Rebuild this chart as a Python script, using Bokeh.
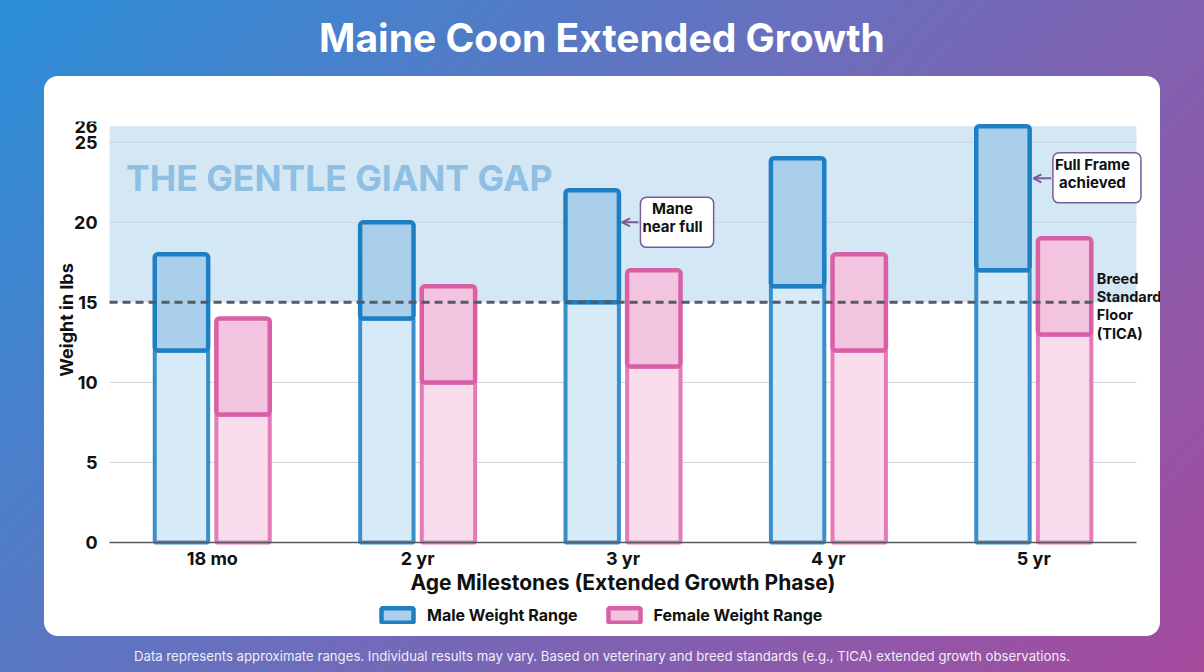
import math
from bokeh.plotting import figure
from bokeh.layouts import column
from bokeh.models import (BoxAnnotation, Label, Arrow, OpenHead, FixedTicker,
                          Legend, LegendItem, ColumnDataSource, Div)
from bokeh.embed import file_html
from bokeh.resources import INLINE

# ---------------- data ----------------
categories = ["18 mo", "2 yr", "3 yr", "4 yr", "5 yr"]
male_low = [12, 14, 15, 16, 17]
male_high = [18, 20, 22, 24, 26]
female_low = [8, 10, 11, 12, 13]
female_high = [14, 16, 17, 18, 19]
y_ticks = [0, 5, 10, 15, 20, 25, 26]
breed_floor = 15
gap_top = 26

FONT = "Inter"
BLUE = "#1f7fc3"
PINK = "#d95fa6"
PURPLE = "#7a5a9c"

idx = list(range(len(categories)))
male_x = [i - 0.15 for i in idx]
female_x = [i + 0.15 for i in idx]
zeros = [0] * len(categories)
x_lo, x_hi = -0.5, len(categories) - 0.5

# the frame spans the whole white card; axes sit at fixed locations inside it
p = figure(width=1116, height=560, output_backend="svg", toolbar_location=None,
           x_range=(x_lo - 0.3168, x_hi + 0.117), y_range=(-5.875, gap_top + 0.3),
           min_border_left=0, min_border_right=0, min_border_top=45,
           min_border_bottom=0, margin=(0, 44, 0, 44))
p.styles = {"background-color": "white", "border-radius": "14px"}
p.border_fill_alpha = 0
p.background_fill_alpha = 0
p.outline_line_color = None
p.xgrid.grid_line_color = None
p.ygrid.grid_line_color = None

# gentle giant band
band = BoxAnnotation(left=x_lo, right=x_hi, bottom=breed_floor, top=gap_top,
                     fill_color="#b9d9ef", fill_alpha=0.62, line_color=None,
                     level="underlay")
p.add_layout(band)

# grid lines
grid_y = [t for t in y_ticks if 0 < t < gap_top and t != breed_floor]
p.segment(x0=[x_lo] * len(grid_y), x1=[x_hi] * len(grid_y), y0=grid_y, y1=grid_y,
          line_color="#c9d5de", line_width=1)

# bars
src = ColumnDataSource(dict(mx=male_x, fx=female_x, z=zeros,
                            ml=male_low, mh=male_high, fl=female_low, fh=female_high))
w = 0.26
p.vbar(x="mx", width=w, bottom="z", top="ml", source=src, fill_color="#d6eaf7",
       line_color="#3a8fcb", line_width=4)
p.vbar(x="fx", width=w, bottom="z", top="fl", source=src, fill_color="#f9dded",
       line_color="#e27bb7", line_width=4)
male_r = p.vbar(x="mx", width=w, bottom="ml", top="mh", source=src, fill_color="#a9cfea",
                line_color=BLUE, line_width=4.5, border_radius=3)
female_r = p.vbar(x="fx", width=w, bottom="fl", top="fh", source=src, fill_color="#f2c4df",
                  line_color=PINK, line_width=4.5, border_radius=3)

# breed standard floor
p.segment(x0=[x_lo], x1=[4.29], y0=[breed_floor], y1=[breed_floor],
          line_color="#545b63", line_width=3, line_dash="8 5")
p.add_layout(Label(x=4.307, y=breed_floor - 0.2, text="Breed\nStandard\nFloor\n(TICA)",
                   text_font=FONT, text_font_style="bold", text_font_size="14.5px",
                   text_color="#111111", text_baseline="middle", text_align="left",
                   text_line_height=1.08))

# band label
p.add_layout(Label(x=-0.42, y=22.75, text="THE GENTLE GIANT GAP", text_font=FONT,
                   text_font_style="bold", text_font_size="35.5px", text_color="#8fbfe2",
                   text_baseline="middle", text_align="left"))

# callouts
def callout(tx, ty, text, ax0, ax1, ay):
    p.add_layout(Arrow(end=OpenHead(size=8, line_color=PURPLE, line_width=2),
                       x_start=ax0, y_start=ay, x_end=ax1, y_end=ay,
                       line_color=PURPLE, line_width=2))
    p.add_layout(Label(x=tx, y=ty, text=text, text_font=FONT, text_font_style="bold",
                       text_font_size="15px", text_color="#111111", text_align="center",
                       text_baseline="middle", text_line_height=0.95,
                       background_fill_color="white", border_line_color=PURPLE,
                       border_line_width=1.5, border_radius=6, padding=[2, 11, 2, 11]))

callout(2.263, 20, "Mane\nnear full", 2.075, 1.995, 20)
callout(4.3075, 22.78, "Full Frame\nachieved", 4.085, 3.998, 22.75)

# axes
p.xaxis.fixed_location = 0
p.xaxis.ticker = FixedTicker(ticks=idx)
p.xaxis.major_label_overrides = {i: c for i, c in zip(idx, categories)}
p.xaxis.bounds = (x_lo, x_hi)
p.xaxis.axis_line_color = "#555a60"
p.xaxis.axis_line_width = 1.5
p.xaxis.major_tick_line_color = None
p.xaxis.minor_tick_line_color = None
p.xaxis.major_label_standoff = 0
p.xaxis.axis_label = "Age Milestones (Extended Growth Phase)"
p.xaxis.axis_label_standoff = -3

p.yaxis.fixed_location = x_lo
p.yaxis.ticker = FixedTicker(ticks=y_ticks)
p.yaxis.bounds = (0, gap_top)
p.yaxis.axis_line_color = None
p.yaxis.major_tick_line_color = None
p.yaxis.minor_tick_line_color = None
p.yaxis.major_label_standoff = 6

for ax in (p.xaxis, p.yaxis):
    ax.major_label_text_font = FONT
    ax.major_label_text_font_style = "bold"
    ax.major_label_text_font_size = "18px"
    ax.major_label_text_color = "#111111"
    ax.axis_label_text_font = FONT
    ax.axis_label_text_font_style = "bold"
    ax.axis_label_text_font_size = "21px"
    ax.axis_label_text_color = "#111111"

# y axis title
p.add_layout(Label(x=-0.7097, y=13.9, text="Weight in lbs", angle=math.pi / 2,
                   text_font=FONT, text_font_style="bold", text_font_size="18px",
                   text_color="#111111", text_align="center", text_baseline="middle"))

# legend
legend = Legend(items=[LegendItem(label="Male Weight Range", renderers=[male_r]),
                       LegendItem(label="Female Weight Range", renderers=[female_r])],
                orientation="horizontal", location=(333, 11), glyph_width=40,
                glyph_height=18, spacing=26, padding=2, margin=0, label_standoff=10,
                label_text_font=FONT, label_text_font_style="bold",
                label_text_font_size="16px", label_text_color="#111111",
                background_fill_alpha=0, border_line_color=None)
p.add_layout(legend)

# title and footer
title = Div(text='<div style="width:1204px;height:76px;line-height:76px;text-align:center;'
                 'color:white;font-family:Inter;font-weight:700;font-size:39px;">'
                 'Maine Coon Extended Growth</div>', width=1204, height=76, margin=0)
footer = Div(text='<div style="width:1204px;height:36px;line-height:40px;text-align:center;'
                  'color:#f0ecf8;font-family:Inter;font-size:13.2px;">'
                  'Data represents approximate ranges. Individual results may vary. '
                  'Based on veterinary and breed standards (e.g., TICA) extended growth observations.'
                  '</div>', width=1204, height=36, margin=0)

page = column(title, p, footer, spacing=0, width=1204, height=672)
page.styles = {"background": "linear-gradient(132deg, #2a90d8 0%, #6870bd 45%, #a64a9d 100%)"}

open("out.html", "w").write(file_html(page, INLINE))
